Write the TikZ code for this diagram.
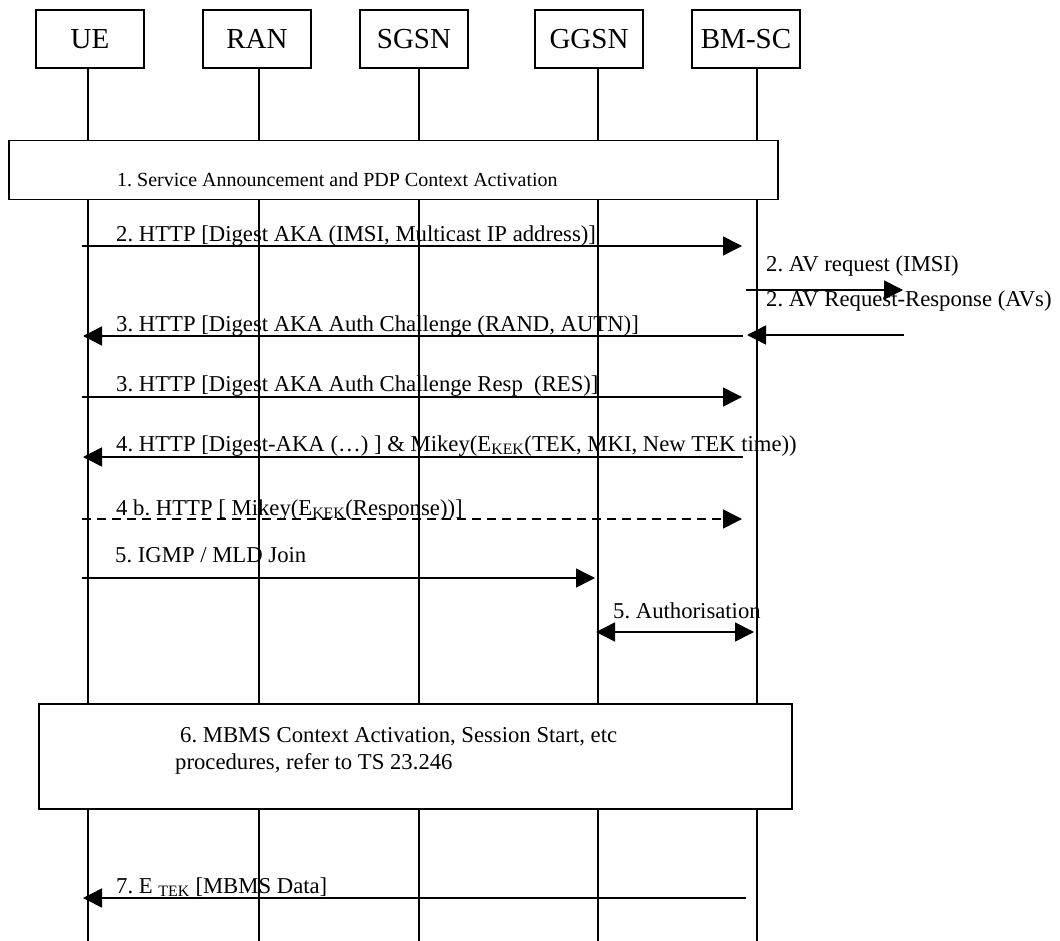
\documentclass[tikz,border=0pt]{standalone}
\usepackage{fontspec}
\setmainfont{Liberation Serif}
\usetikzlibrary{arrows.meta}
\tikzset{
  entity/.style={draw, line width=1.5pt, minimum width=108pt, minimum height=58pt, inner sep=0pt, font=\fontsize{29}{34}\selectfont},
  life/.style={line width=1.2pt},
  phase/.style={draw, fill=white, line width=1.5pt, anchor=north west, inner sep=0pt},
  msg/.style={line width=1.5pt, -{Triangle[length=19pt,width=19pt]}},
  lbl/.style={anchor=base west, inner sep=0pt, font=\fontsize{22.7}{27}\selectfont},
}
\frenchspacing
\begin{document}
\begin{tikzpicture}[x=1pt,y=-1pt]
\useasboundingbox (0,0) rectangle (1060,941);
% entities
\node[entity] (ue) at (90,39) {UE};
\node[entity] (ran) at (257,39) {RAN};
\node[entity] (sgsn) at (414,39) {SGSN};
\node[entity] (ggsn) at (589,39) {GGSN};
\node[entity] (bmsc) at (746,39) {BM-SC};
% lifelines
\foreach \n/\x in {ue/88,ran/259,sgsn/419,ggsn/598,bmsc/757}{
  \coordinate (\n top) at (\x,68);
  \coordinate (\n bot) at (\x,941);
  \draw[life] (\n top) -- (\n bot);
}
% 1. box
\node[phase, minimum width=769pt, minimum height=59pt] (p1) at (8,140) {};
\node[lbl, font=\fontsize{20}{24}\selectfont] (t1) at (117,187) {1. Service Announcement and PDP Context Activation};
% 2.
\coordinate (a2) at (82,246); \coordinate (b2) at (742,246);
\draw[msg] (a2) -- (b2);
\node[lbl] (t2) at (116,242) {2. HTTP [Digest AKA (IMSI, Multicast IP address)]};
\coordinate (a2r) at (746,290); \coordinate (b2r) at (903,290);
\draw[msg] (a2r) -- (b2r);
\node[lbl] (t2r) at (766,272) {2. AV request (IMSI)};
\coordinate (a2s) at (904,335); \coordinate (b2s) at (747,335);
\draw[msg] (a2s) -- (b2s);
\node[lbl] (t2s) at (766,306) {2. AV Request-Response (AVs)};
% 3.
\coordinate (a3) at (743,336); \coordinate (b3) at (83,336);
\draw[msg] (a3) -- (b3);
\node[lbl] (t3) at (116,331) {3. HTTP [Digest AKA Auth Challenge (RAND, AUTN)]};
\coordinate (a3r) at (82,397); \coordinate (b3r) at (742,397);
\draw[msg] (a3r) -- (b3r);
\node[lbl] (t3r) at (116,391) {3. HTTP [Digest AKA Auth Challenge Resp\ \ (RES)]};
% 4.
\coordinate (a4) at (743,457); \coordinate (b4) at (83,457);
\draw[msg] (a4) -- (b4);
\node[lbl] (t4) at (116,451) {4. HTTP [Digest-AKA (…) ] \& Mikey(E\textsubscript{KEK}(TEK, MKI, New TEK time))};
\coordinate (a4b) at (82,519); \coordinate (b4b) at (742,519);
\draw[msg, dash pattern=on 9pt off 6pt] (a4b) -- (b4b);
\node[lbl] (t4b) at (116,515) {4 b. HTTP [ Mikey(E\textsubscript{KEK}(Response))]};
% 5.
\coordinate (a5) at (82,578); \coordinate (b5) at (595,578);
\draw[msg] (a5) -- (b5);
\node[lbl] (t5) at (115,562) {5. IGMP / MLD Join};
\coordinate (a5a) at (596,632); \coordinate (b5a) at (754,632);
\draw[msg, {Triangle[length=19pt,width=19pt]}-{Triangle[length=19pt,width=19pt]}] (a5a) -- (b5a);
\node[lbl] (t5a) at (613,618) {5. Authorisation};
% 6. box
\node[phase, minimum width=753pt, minimum height=105pt] (p6) at (38,703) {};
\node[lbl] (t6a) at (180,742) {6. MBMS Context Activation, Session Start, etc};
\node[lbl] (t6b) at (175,769) {procedures, refer to TS 23.246};
% 7.
\coordinate (a7) at (746,898); \coordinate (b7) at (83,898);
\draw[msg] (a7) -- (b7);
\node[lbl] (t7) at (116,893) {7. E \textsubscript{TEK} [MBMS Data]};
\end{tikzpicture}
\end{document}
